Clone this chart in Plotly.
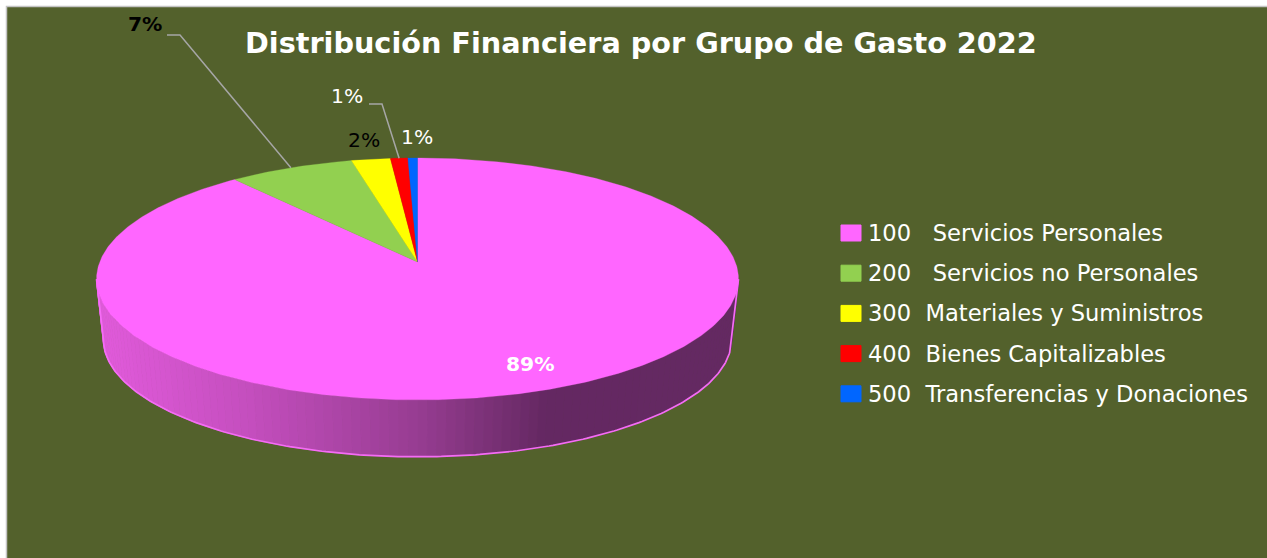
import numpy as np
import plotly.graph_objects as go

# ---- data ----
categories = ["100   Servicios Personales", "200   Servicios no Personales",
              "300  Materiales y Suministros", "400  Bienes Capitalizables",
              "500  Transferencias y Donaciones"]
values = [89.0, 7.2, 2.25, 1.0, 0.55]
pct_labels = ["89%", "7%", "2%", "1%", "1%"]
colors = ["#FF66FF", "#92D050", "#FFFF00", "#FF0000", "#0066FF"]
title = "Distribución Financiera por Grupo de Gasto 2022"

BG = "#53612C"
W, H = 1267, 558
cx = 417.5
k = 0.1405
top = dict(a=317.8, b=118.6, cy=262.0)
low = dict(a=311.0, b=115.0, cy=323.0)


def rim(theta, g):
    u, v = np.sin(theta), np.cos(theta)
    d = 1 + k * v
    return cx + g["a"] * u / d, g["cy"] - g["b"] * v / d


def wall_color(x):
    stops_x = [104, 250, 420, 545, 735]
    r = np.interp(x, stops_x, [224, 196, 150, 100, 100])
    g = np.interp(x, stops_x, [90, 78, 60, 40, 41])
    b = np.interp(x, stops_x, [218, 190, 145, 98, 98])
    return f"rgb({r:.0f},{g:.0f},{b:.0f})"


fig = go.Figure()

# side wall
t_start, t_end = 98.1, 261.9
edges = np.radians(np.linspace(t_start, t_end, 111))
for t0, t1 in zip(edges[:-1], edges[1:]):
    x0, y0 = rim(t0, top); x1, y1 = rim(t1, top)
    x2, y2 = rim(t1, low); x3, y3 = rim(t0, low)
    c = wall_color((x0 + x1 + x2 + x3) / 4)
    fig.add_trace(go.Scatter(x=[x0, x1, x2, x3, x0], y=[y0, y1, y2, y3, y0], mode="lines",
                             fill="toself", fillcolor=c, line=dict(color=c, width=0.8),
                             hoverinfo="skip", showlegend=False))

# wall outline
tt = np.radians(np.linspace(t_start, t_end, 240))
lx, ly = rim(tt, low)
sx0, sy0 = rim(tt[0], top)
sx1, sy1 = rim(tt[-1], top)
fig.add_trace(go.Scatter(x=np.r_[sx0, lx, sx1], y=np.r_[sy0, ly, sy1], mode="lines",
                         line=dict(color="#F56CF5", width=1.7), hoverinfo="skip", showlegend=False))

# top face slices
cum = 0.0
total = sum(values)
mids = []
for name, val, col in zip(categories, values, colors):
    t = np.radians(np.linspace(cum, cum + val, max(8, int(val * 6))) / total * 360)
    x, y = rim(t, top)
    fig.add_trace(go.Scatter(x=np.r_[cx, x, cx], y=np.r_[top["cy"], y, top["cy"]], mode="lines",
                             fill="toself", fillcolor=col, line=dict(color=col, width=0.3),
                             name=name, hoverinfo="name", showlegend=False))
    mids.append((cum + val / 2) / total * 2 * np.pi)
    cum += val

# leader lines
for idx, (px, py) in {1: ((167, 180), 35), 3: ((369, 382), 104)}.items():
    ex, ey = rim(mids[idx], top)
    fig.add_trace(go.Scatter(x=[px[0], px[1], float(ex)], y=[py, py, float(ey)], mode="lines",
                             line=dict(color="#A6A6A6", width=1.5), hoverinfo="skip", showlegend=False))

TXT = "DejaVu Sans"
ann = [dict(x=641, y=43, text=f"<b>{title}</b>", font=dict(size=28.7, color="white", family=TXT))]
label_pos = [(530, 364, "white", True), (145, 24, "black", True), (364, 140, "black", False),
             (347, 96, "white", False), (417, 137, "white", False)]
for lab, (x, y, c, bold) in zip(pct_labels, label_pos):
    ann.append(dict(x=x, y=y, text=f"<b>{lab}</b>" if bold else lab,
                    font=dict(size=20.3, color=c, family=TXT)))

shapes = [dict(type="rect", x0=6.5, y0=6.5, x1=W + 5, y1=H + 5, fillcolor=BG,
               line=dict(color="#C4C4C4", width=1.5), layer="below")]
for i, (name, col) in enumerate(zip(categories, colors)):
    yc = 233 + i * 40.2
    shapes.append(dict(type="rect", x0=841, x1=861, y0=yc - 8, y1=yc + 8, fillcolor=col,
                       line=dict(color=col, width=1)))
    ann.append(dict(x=866, y=yc, text=name, xanchor="left", font=dict(size=22.6, color="white", family=TXT)))

for a in ann:
    a.update(xref="x", yref="y", showarrow=False, **({} if "xanchor" in a else {"xanchor": "center"}))
    a["yanchor"] = "middle"

fig.update_layout(width=W, height=H, margin=dict(l=0, r=0, t=0, b=0), paper_bgcolor="white",
                  plot_bgcolor="white", showlegend=False,
                  shapes=shapes, annotations=ann,
                  xaxis=dict(range=[0, W], visible=False, fixedrange=True),
                  yaxis=dict(range=[H, 0], visible=False, fixedrange=True))
fig.write_html("out.html", config=dict(displayModeBar=False),
               post_script="document.body.style.margin='0';")
